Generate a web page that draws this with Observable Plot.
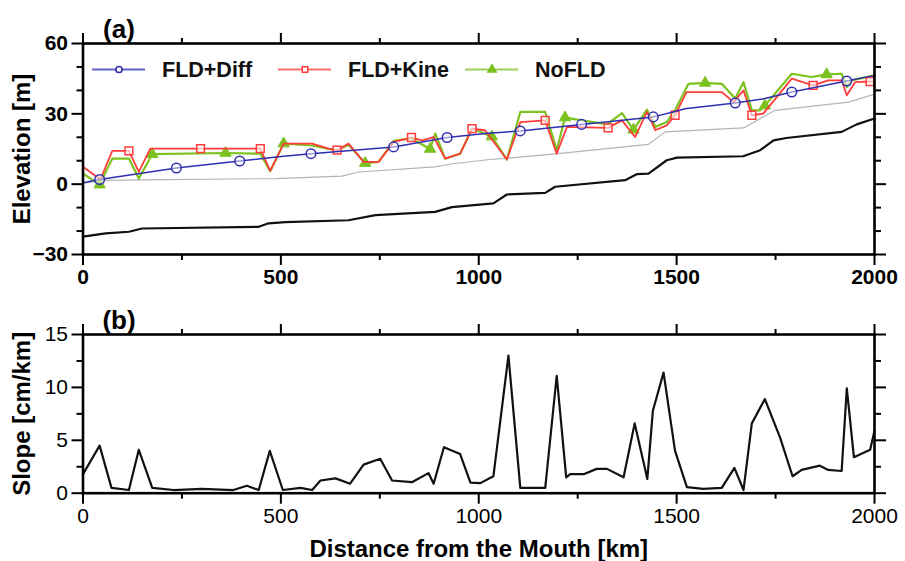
<!DOCTYPE html>
<html><head><meta charset="utf-8">
<script src="https://cdn.jsdelivr.net/npm/d3@7"></script>
<script src="https://cdn.jsdelivr.net/npm/@observablehq/plot@0.6"></script>
<style>
body{margin:0;background:#fff;font-family:"Liberation Sans",Arial,sans-serif;}
#wrap{position:relative;width:905px;height:561px;overflow:hidden;}
#top,#bot,#legend{position:absolute;left:0;}
#top{top:0}
#bot{top:300px}
#legend{top:0;pointer-events:none}
</style></head><body>
<div id="wrap"><div id="top"></div><div id="bot"></div><div id="legend"></div></div>
<script>
// ---- Panel (a): elevation profiles ----
const bedKm   = [0,57,116,149,444,469,511,671,739,890,932,1037,1071,1168,1193,1370,1400,1429,1475,1501,1668,1711,1745,1777,1917,1955,2000];
const bedElev = [-22.4,-21.0,-20.3,-18.9,-18.2,-16.7,-16.2,-15.4,-13.2,-11.8,-9.8,-8.2,-4.4,-3.7,-1.1,1.7,4.3,4.5,10.2,11.3,11.9,14.5,18.7,19.7,22.3,25.5,28.0];

const grayKm   = [0,44,150,486,654,696,890,925,1016,1200,1429,1471,1669,1749,1934,2000];
const grayElev = [0.3,1.6,1.8,2.4,3.4,5.2,7.4,8.5,10.3,13.0,17.0,22.3,24.0,31.5,35.0,38.4];

const diffKm   = [0,42,236,396,507,576,785,920,1016,1105,1260,1441,1496,1521,1648,1723,1791,1930,2000];
const diffElev = [0.6,2.0,6.9,9.9,11.9,13.0,15.9,19.9,21.6,22.7,25.5,28.7,31.0,32.2,34.6,36.5,39.3,44.0,46.4];
const diffMarkKm = [42,236,396,576,785,920,1105,1260,1441,1648,1791,1930];

const kineKm   = [0,44,74,116,141,170,297,448,473,507,579,621,642,671,709,747,785,830,857,886,915,953,983,1016,1071,1105,1168,1197,1223,1327,1362,1395,1425,1446,1475,1496,1525,1614,1644,1669,1690,1719,1791,1845,1883,1917,1930,1951,1989,2000];
const kineElev = [7.4,2.0,14.2,14.2,5.2,15.2,15.2,15.2,5.7,17.3,17.3,15.2,14.5,17.3,9.5,9.5,18.0,19.9,18.7,20.1,10.9,13.0,23.7,23.0,10.5,26.5,27.2,13.0,24.4,24.0,27.2,20.1,30.8,23.0,25.1,29.4,39.3,39.3,35.0,40.0,29.4,30.1,45.0,42.1,44.3,44.3,37.9,43.5,43.8,43.5];
const kineMarkKm = [116,297,448,642,830,983,1168,1327,1496,1690,1845,1989];

const nofldKm   = [0,42,74,116,141,175,360,448,473,507,579,621,642,671,713,747,785,830,877,890,915,953,983,1033,1071,1105,1168,1197,1218,1324,1362,1391,1425,1446,1475,1496,1530,1572,1614,1648,1669,1690,1711,1723,1791,1841,1879,1917,1930,1942,2000];
const nofldElev = [4.5,-0.2,10.9,10.9,2.4,12.8,13.3,13.0,5.5,17.3,16.5,15.0,14.5,16.8,9.0,9.5,18.5,19.5,15.0,21.6,10.9,13.0,23.7,20.3,10.5,30.8,30.8,14.5,28.4,25.5,30.3,23.2,31.8,24.4,26.5,31.5,42.8,43.2,42.8,36.5,43.5,31.5,31.5,33.5,47.1,45.7,46.8,47.1,41.4,44.3,46.4];
const nofldMarkKm = [42,175,360,507,713,877,1033,1218,1391,1572,1723,1879];

// ---- Panel (b): slope ----
const slopeKm  = [0,42,72,116,141,175,229,300,380,414,444,472,505,550,579,600,638,675,709,751,781,831,873,886,912,953,979,1004,1037,1075,1105,1168,1197,1221,1231,1265,1298,1324,1366,1394,1426,1440,1467,1496,1526,1567,1614,1646,1669,1690,1723,1761,1793,1816,1862,1883,1917,1930,1948,1989,2000];
const slopeVal = [1.8,4.5,0.5,0.3,4.1,0.5,0.3,0.4,0.3,0.7,0.3,4.0,0.3,0.5,0.3,1.2,1.4,0.9,2.7,3.25,1.2,1.04,1.9,0.9,4.35,3.7,1.0,0.95,1.6,13.0,0.5,0.5,11.1,1.5,1.8,1.8,2.3,2.3,1.5,6.6,1.35,7.8,11.4,4.0,0.57,0.4,0.5,2.4,0.3,6.6,8.9,5.3,1.6,2.2,2.6,2.2,2.1,9.9,3.4,4.1,5.9];

// ---- ticks & labels ----
const xMajor = [0,500,1000,1500,2000];
const xMinor = [250,750,1250,1750];
const elevMajor = [-30,0,30,60];
const elevMinor = [-20,-10,10,20,40,50];
const slopeMajor = [0,5,10,15];
const slopeMinor = [2.5,7.5,12.5];
const seriesNames = ["FLD+Diff","FLD+Kine","NoFLD"];
const seriesColors = ["#2f2fb0","#ff3c3c","#7cc21e"];
const panelTags = ["(a)","(b)"];
const yTitles = ["Elevation [m]","Slope [cm/km]"];
const xTitle = "Distance from the Mouth [km]";

const rows = (xs, ys) => xs.map((x, i) => ({x, y: ys[i]}));
const marked = (data, keys) => data.filter(d => keys.includes(d.x));

const bed = rows(bedKm, bedElev);
const gray = rows(grayKm, grayElev);
const diff = rows(diffKm, diffElev);
const kine = rows(kineKm, kineElev);
const nofld = rows(nofldKm, nofldElev);
const slope = rows(slopeKm, slopeVal);

const blank = () => "";
const fmt = d => d < 0 ? "\u2212" + (-d) : String(d);
function frameAxes(yMajor, yMinor) {
  return [
    Plot.frame({stroke: "black", strokeWidth: 2.6}),
    Plot.axisX({anchor: "bottom", ticks: xMajor, tickSize: 11, tickPadding: 4, tickFormat: fmt, label: null, strokeWidth: 2}),
    Plot.axisX({anchor: "bottom", ticks: xMinor, tickSize: 6, tickFormat: blank, label: null, strokeWidth: 2}),
    Plot.axisX({anchor: "top", ticks: xMajor, tickSize: 11, tickFormat: blank, label: null, strokeWidth: 2}),
    Plot.axisX({anchor: "top", ticks: xMinor, tickSize: 6, tickFormat: blank, label: null, strokeWidth: 2}),
    Plot.axisY({anchor: "left", ticks: yMajor, tickSize: 11, tickPadding: 4, tickFormat: fmt, label: null, strokeWidth: 2}),
    Plot.axisY({anchor: "left", ticks: yMinor, tickSize: 6, tickFormat: blank, label: null, strokeWidth: 2}),
    Plot.axisY({anchor: "right", ticks: yMajor, tickSize: 11, tickFormat: blank, label: null, strokeWidth: 2}),
    Plot.axisY({anchor: "right", ticks: yMinor, tickSize: 6, tickFormat: blank, label: null, strokeWidth: 2})
  ];
}

const topPlot = Plot.plot({
  width: 905, height: 300,
  marginLeft: 82.5, marginRight: 31, marginTop: 43, marginBottom: 46,
  x: {domain: [0, 2000]},
  y: {domain: [-30, 60]},
  style: {fontFamily: "'Liberation Sans', Arial, sans-serif", fontSize: "21px", fontWeight: "bold", color: "black", background: "transparent", overflow: "visible"},
  marks: [
    Plot.line(gray, {x: "x", y: "y", stroke: "#b4b4b4", strokeWidth: 1.2}),
    Plot.line(bed, {x: "x", y: "y", stroke: "#111", strokeWidth: 2.2}),
    Plot.line(nofld, {x: "x", y: "y", stroke: seriesColors[2], strokeWidth: 2.2}),
    Plot.dot(marked(nofld, nofldMarkKm), {x: "x", y: "y", symbol: "triangle", r: 4.2, fill: seriesColors[2], stroke: seriesColors[2], strokeWidth: 1}),
    Plot.line(kine, {x: "x", y: "y", stroke: seriesColors[1], strokeWidth: 1.8}),
    Plot.dot(marked(kine, kineMarkKm), {x: "x", y: "y", symbol: "square", r: 4.4, fill: "white", fillOpacity: 0.6, stroke: seriesColors[1], strokeWidth: 1.5}),
    Plot.line(diff, {x: "x", y: "y", stroke: seriesColors[0], strokeWidth: 1.5}),
    Plot.dot(marked(diff, diffMarkKm), {x: "x", y: "y", symbol: "circle", r: 4.8, fill: "white", fillOpacity: 0.5, stroke: seriesColors[0], strokeWidth: 1.5}),
    ...frameAxes(elevMajor, elevMinor),
    Plot.text([panelTags[0]], {text: d => d, frameAnchor: "top-left", dx: 36, dy: -6, lineAnchor: "bottom", textAnchor: "middle", fontSize: 26, fontWeight: "bold"}),
    Plot.text([yTitles[0]], {text: d => d, frameAnchor: "left", dx: -61, rotate: -90, textAnchor: "middle", lineAnchor: "middle", fontSize: 24, fontWeight: "bold"})
  ]
});
document.getElementById("top").append(topPlot);

const botPlot = Plot.plot({
  width: 905, height: 261,
  marginLeft: 82.5, marginRight: 31, marginTop: 34, marginBottom: 68.3,
  x: {domain: [0, 2000]},
  y: {domain: [0, 15]},
  style: {fontFamily: "'Liberation Sans', Arial, sans-serif", fontSize: "21px", fontWeight: "normal", color: "black", background: "transparent", overflow: "visible"},
  marks: [
    Plot.line(slope, {x: "x", y: "y", stroke: "#111", strokeWidth: 2.2}),
    ...frameAxes(slopeMajor, slopeMinor),
    Plot.text([panelTags[1]], {text: d => d, frameAnchor: "top-left", dx: 36, dy: -6, lineAnchor: "bottom", textAnchor: "middle", fontSize: 26, fontWeight: "bold"}),
    Plot.text([yTitles[1]], {text: d => d, frameAnchor: "left", dx: -61, rotate: -90, textAnchor: "middle", lineAnchor: "middle", fontSize: 24, fontWeight: "bold"}),
    Plot.text([xTitle], {text: d => d, frameAnchor: "bottom", dy: 56, textAnchor: "middle", lineAnchor: "middle", fontSize: 24, fontWeight: "bold"})
  ]
});
document.getElementById("bot").append(botPlot);

// ---- legend (inside panel a) ----
const legendItems = [
  {name: seriesNames[0], color: seriesColors[0], sym: d3.symbolCircle, x0: 92, fill: "white"},
  {name: seriesNames[1], color: seriesColors[1], sym: d3.symbolSquare, x0: 278, fill: "white"},
  {name: seriesNames[2], color: seriesColors[2], sym: d3.symbolTriangle, x0: 465, fill: seriesColors[2]}
];
const lg = d3.select("#legend").append("svg").attr("width", 905).attr("height", 100)
  .style("font-family", "'Liberation Sans', Arial, sans-serif");
const ly = 69.5;
for (const it of legendItems) {
  const g = lg.append("g");
  g.append("line").attr("x1", it.x0).attr("x2", it.x0 + 53).attr("y1", ly).attr("y2", ly)
    .attr("stroke", it.color).attr("stroke-width", 2).attr("stroke-opacity", 0.75);
  g.append("path").attr("d", d3.symbol(it.sym, 30)()).attr("transform", `translate(${it.x0 + 27},${ly})`)
    .attr("fill", it.fill).attr("stroke", it.color).attr("stroke-width", 1.5);
  g.append("text").attr("x", it.x0 + 70).attr("y", ly + 7.5).attr("font-size", 21.5).attr("font-weight", "bold")
    .attr("fill", "#111").text(it.name);
}
</script>
</body></html>
